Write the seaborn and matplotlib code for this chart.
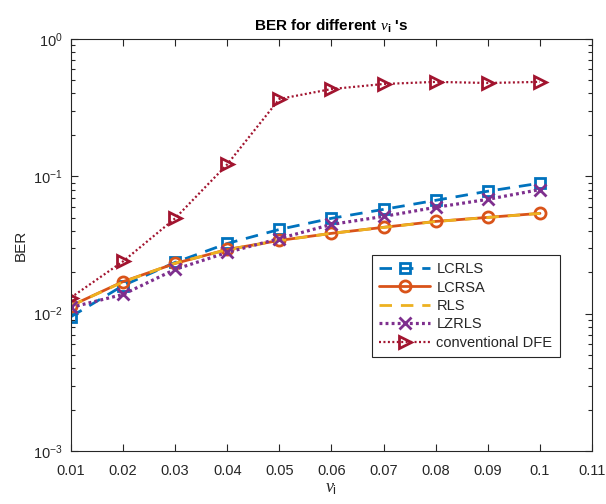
import numpy as np
import pandas as pd
import matplotlib
matplotlib.use("Agg")
import matplotlib.pyplot as plt
import seaborn as sns
from matplotlib.ticker import LogLocator, NullFormatter, FixedLocator, FixedFormatter

# step sizes nu_i
nu = [0.01, 0.02, 0.03, 0.04, 0.05, 0.06, 0.07, 0.08, 0.09, 0.10]

# BER curves
ber_lcrls = [0.0095, 0.0160, 0.0236, 0.0324, 0.0410, 0.0494, 0.0574, 0.0668, 0.0778, 0.0890]
ber_lcrsa = [0.0114, 0.0171, 0.0232, 0.0293, 0.0341, 0.0384, 0.0425, 0.0469, 0.0502, 0.0537]
ber_rls   = [0.0114, 0.0170, 0.0233, 0.0292, 0.0340, 0.0384, 0.0424, 0.0468, 0.0501, 0.0536]
ber_lzrls = [0.0111, 0.0138, 0.0210, 0.0279, 0.0352, 0.0446, 0.0510, 0.0594, 0.0679, 0.0800]
ber_dfe   = [0.0131, 0.0240, 0.0494, 0.1220, 0.3650, 0.4310, 0.4690, 0.4860, 0.4770, 0.4860]

series_names = ["LCRLS", "LCRSA", "RLS", "LZRLS", "conventional DFE"]
series_vals = [ber_lcrls, ber_lcrsa, ber_rls, ber_lzrls, ber_dfe]

xtick_vals = [0.01, 0.02, 0.03, 0.04, 0.05, 0.06, 0.07, 0.08, 0.09, 0.1, 0.11]
xtick_labels = ["0.01", "0.02", "0.03", "0.04", "0.05", "0.06", "0.07", "0.08", "0.09", "0.1", "0.11"]

sns.set_style("ticks")
plt.rcParams["font.family"] = ["Liberation Sans", "DejaVu Sans"]
plt.rcParams["mathtext.fontset"] = "custom"
plt.rcParams["mathtext.rm"] = "Liberation Sans"
plt.rcParams["mathtext.it"] = "Liberation Serif:italic"
plt.rcParams["mathtext.bf"] = "Liberation Sans:bold"

axis_col = "#262626"

styles = {
    "LCRLS": dict(color="#0072BD", marker="s", lw=2.0, dashes=(4.5, 3.2), ms=7),
    "LCRSA": dict(color="#D95319", marker="o", lw=2.0, dashes=None, ms=8),
    "RLS": dict(color="#EDB120", marker=None, lw=2.0, dashes=(4.5, 3.2), ms=7),
    "LZRLS": dict(color="#7E2F8E", marker="x", lw=2.3, dashes=(0.9, 1.0), ms=8),
    "conventional DFE": dict(color="#A2142F", marker=">", lw=1.6, dashes=(0.9, 1.1), ms=8),
}

rows = []
for name, vals in zip(series_names, series_vals):
    for x, y in zip(nu, vals):
        rows.append({"nu": x, "BER": y, "method": name})
df = pd.DataFrame(rows)

fig = plt.figure(figsize=(6.06, 5.04), dpi=100)
ax = fig.add_axes([0.117, 0.105, 0.860, 0.818])

for name in series_names:
    st = styles[name]
    sub = df[df["method"] == name]
    n_before = len(ax.lines)
    sns.lineplot(data=sub, x="nu", y="BER", ax=ax, color=st["color"], lw=st["lw"],
                 marker=st["marker"] if st["marker"] else "", markersize=st["ms"],
                 markerfacecolor="none", markeredgecolor=st["color"],
                 markeredgewidth=2.0, label=name, errorbar=None, sort=False)
    line = ax.lines[n_before]
    if st["dashes"] is not None:
        line.set_dashes(st["dashes"])
    line.set_dash_capstyle("butt")

ax.set_yscale("log")
ax.set_ylim(1e-3, 1)
ax.set_xlim(0.01, 0.11)
ax.xaxis.set_major_locator(FixedLocator(xtick_vals))
ax.xaxis.set_major_formatter(FixedFormatter(xtick_labels))
ax.yaxis.set_major_locator(LogLocator(base=10, numticks=10))
ax.yaxis.set_minor_locator(LogLocator(base=10, subs=np.arange(2, 10), numticks=20))
ax.yaxis.set_minor_formatter(NullFormatter())

for sp in ax.spines.values():
    sp.set_visible(True)
    sp.set_color(axis_col)
    sp.set_linewidth(0.8)

ax.tick_params(which="both", direction="in", top=True, right=True, colors=axis_col,
               labelcolor=axis_col, labelsize=10.5)
ax.tick_params(which="major", length=5, width=0.8)
ax.tick_params(which="minor", length=3, width=0.8)
ax.tick_params(axis="x", which="major", pad=9)
ax.tick_params(axis="y", which="major", pad=6)

ax.set_title(r"BER for different $\nu_{\mathbf{i}}$ 's", fontsize=11, fontweight="bold",
             color="black", pad=6)
ax.set_xlabel(r"$\nu_{\rm i}$", fontsize=13, color=axis_col, labelpad=2)
ax.set_ylabel("BER", fontsize=11, color=axis_col, labelpad=4)

leg = ax.legend(loc="upper left", bbox_to_anchor=(0.578, 0.476), fontsize=10.5,
                frameon=True, fancybox=False, framealpha=1, edgecolor=axis_col,
                handlelength=3.5, handletextpad=0.4, borderpad=0.5,
                labelspacing=0.3, borderaxespad=0)
leg.get_frame().set_linewidth(0.8)

fig.savefig("out.png", dpi=100)
